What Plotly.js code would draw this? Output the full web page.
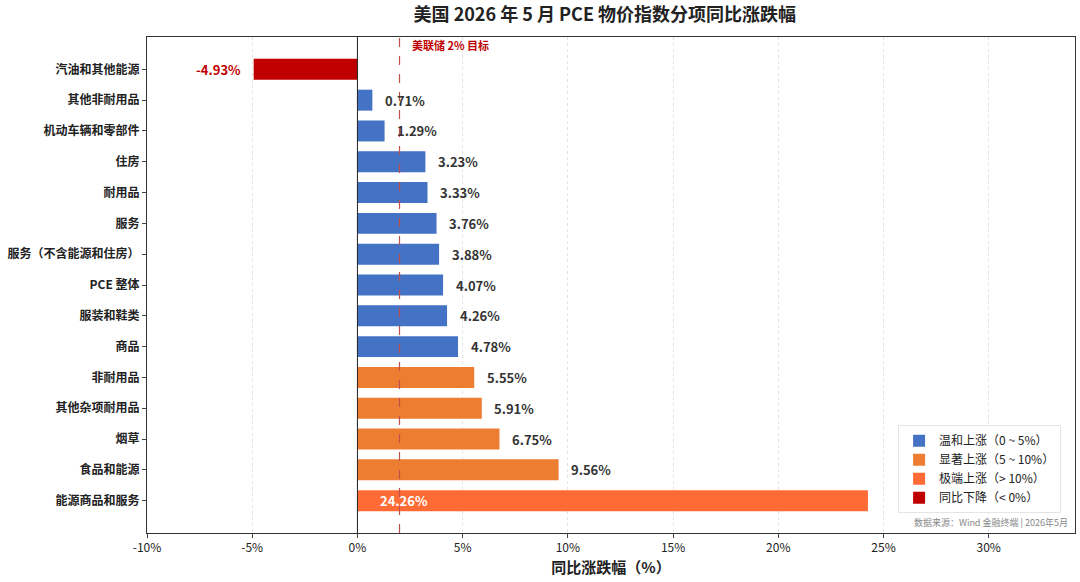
<!DOCTYPE html>
<html><head><meta charset="utf-8">
<script src="https://cdn.plot.ly/plotly-3.0.1.min.js"></script>
<style>body{margin:0}</style></head>
<body><div id="graph" style="width:1080px;height:582px"></div>
<script>
// top to bottom
var categories = ["汽油和其他能源","其他非耐用品","机动车辆和零部件","住房","耐用品","服务","服务（不含能源和住房）","PCE 整体","服装和鞋类","商品","非耐用品","其他杂项耐用品","烟草","食品和能源","能源商品和服务"];
var values = [-4.93,0.71,1.29,3.23,3.33,3.76,3.88,4.07,4.26,4.78,5.55,5.91,6.75,9.56,24.26];
var groupNames = ["温和上涨（0 ~ 5%）","显著上涨（5 ~ 10%）","极端上涨（> 10%）","同比下降（< 0%）"];
var groupColors = ["#4472C4","#ED7D31","#FF6B35","#C00000"];
var fedTarget = 2;

function groupOf(v){ if(v<0) return 3; if(v<5) return 0; if(v<10) return 1; return 2; }

var data = [];
for(let g=0; g<4; g++){
    var t = {type:'bar', orientation:'h', x:[], y:[], name:groupNames[g],
        marker:{color:groupColors[g]}, width:0.68, hoverinfo:'x+y'};
    for(let i=0;i<values.length;i++){
        if(groupOf(values[i])==g){ t.x.push(values[i]); t.y.push(categories[i]); }
    }
    data.push(t);
}

var ann = [];
for(let i=0;i<values.length;i++){
    var v = values[i], a = {y:categories[i], showarrow:false, text:v.toFixed(2)+'%',
        font:{size:13, color:'#333', family:'Noto Sans CJK SC'}};
    if(v<0){ a.x=v-0.5; a.xanchor='right'; a.font.color='#C00000'; }
    else if(v>10){ a.x=1; a.xanchor='left'; a.font.color='#fff'; }
    else { a.x=v+0.5; a.xanchor='left'; }
    a.text = '<b>'+a.text+'</b>';
    ann.push(a);
}
ann.push({x:fedTarget+0.5, xanchor:'left', y:1, yref:'paper', yanchor:'bottom', yshift:-18, showarrow:false,
    text:'<b>美联储 2% 目标</b>', font:{size:11, color:'#C00000', family:'Noto Sans CJK SC'}});
ann.push({x:0.995, xref:'paper', xanchor:'right', y:0.005, yref:'paper', yanchor:'bottom', showarrow:false,
    text:'数据来源：Wind 金融终端 | 2026年5月', font:{size:9, color:'#888', family:'Noto Sans CJK SC'}});

var ticks = categories.map(c => '<b>'+c+'</b>');

var layout = {
    title:{text:'<b>美国 2026 年 5 月 PCE 物价指数分项同比涨跌幅</b>', x:0.56, y:0.985, yanchor:'top', font:{size:18, color:'#222', family:'Noto Sans CJK SC'}},
    font:{family:'Noto Sans CJK SC', size:12, color:'#222'},
    margin:{l:147, r:5, t:37, b:49},
    barmode:'overlay',
    paper_bgcolor:'#fff', plot_bgcolor:'#fff',
    xaxis:{range:[-10,34.1], tickvals:[-10,-5,0,5,10,15,20,25,30], ticktext:['-10%','-5%','0%','5%','10%','15%','20%','25%','30%'],
        showgrid:true, gridcolor:'#e3e3e3', griddash:'dot', zeroline:false, ticks:'outside', ticklen:4,
        showline:true, mirror:true, linecolor:'#333',
        title:{text:'<b>同比涨跌幅（%）</b>', font:{size:15}, standoff:8}},
    yaxis:{categoryorder:'array', categoryarray:categories, tickmode:'array', tickvals:categories, ticktext:ticks,
        autorange:false, range:[15.05,-1.05],
        showline:true, mirror:true, linecolor:'#333', ticks:'outside', ticklen:4,
        tickfont:{size:12}},
    shapes:[
        {type:'line', x0:0, x1:0, y0:0, y1:1, yref:'paper', line:{color:'#222', width:1}},
        {type:'line', x0:fedTarget, x1:fedTarget, y0:0, y1:1, yref:'paper', line:{color:'#C0504D', width:1.2, dash:'dash'}}
    ],
    legend:{x:0.985, xanchor:'right', y:0.04, yanchor:'bottom', bgcolor:'#fff', bordercolor:'#e5e5e5', borderwidth:1, font:{size:12}, tracegroupgap:0},
    annotations:ann
};
Plotly.newPlot('graph', data, layout, {displayModeBar:false});
</script></body></html>
